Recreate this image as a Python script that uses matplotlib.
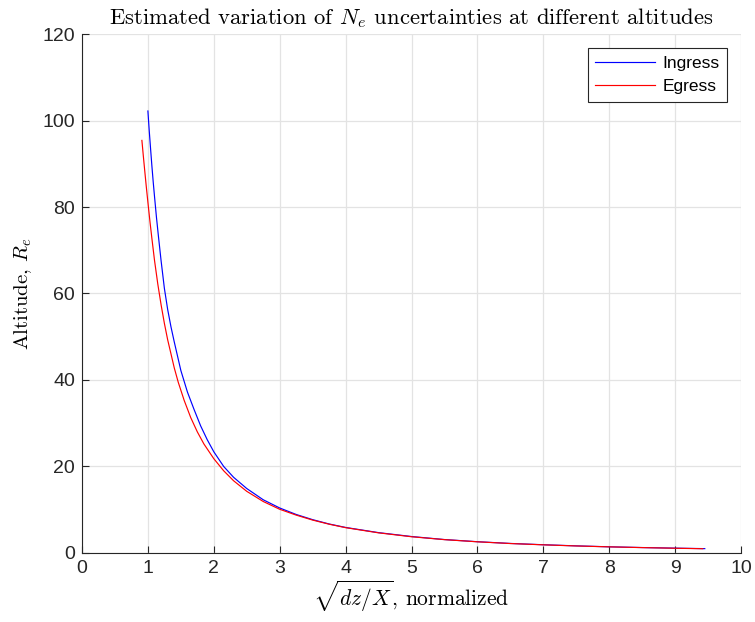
import matplotlib
matplotlib.use("Agg")
import matplotlib.pyplot as plt

# Ingress: normalized sqrt(dz/X) vs altitude (R_e)
ingress_x = [1.00, 1.02, 1.04, 1.06, 1.08, 1.10, 1.13, 1.16, 1.20, 1.25,
             1.30, 1.35, 1.40, 1.50, 1.60, 1.70, 1.80, 1.90, 2.00, 2.15,
             2.30, 2.50, 2.75, 3.00, 3.25, 3.50, 3.75, 4.00, 4.50, 5.00,
             5.50, 6.00, 6.50, 7.00, 7.50, 8.00, 8.50, 9.00, 9.45]
ingress_y = [102.2, 97.7, 93.6, 89.6, 85.9, 82.5, 77.6, 73.2, 67.6, 61.2,
             56.3, 52.3, 48.8, 42.2, 37.2, 33.2, 29.4, 26.2, 23.4, 20.0,
             17.5, 14.9, 12.3, 10.4, 8.9, 7.7, 6.7, 5.9, 4.7, 3.8,
             3.1, 2.6, 2.2, 1.9, 1.64, 1.42, 1.25, 1.11, 1.0]

# Egress
egress_x = [0.909, 0.93, 0.95, 0.975, 1.00, 1.03, 1.06, 1.10, 1.15, 1.20,
            1.25, 1.30, 1.40, 1.46, 1.55, 1.65, 1.75, 1.85, 2.00, 2.15,
            2.30, 2.50, 2.75, 3.00, 3.25, 3.50, 3.75, 4.00, 4.50, 5.00,
            5.50, 6.00, 6.50, 7.00, 7.50, 8.00, 8.50, 9.00, 9.42]
egress_y = [95.4, 91.9, 88.7, 84.8, 81.1, 76.8, 72.8, 67.7, 62.2, 57.4,
            53.1, 49.3, 42.8, 39.5, 35.3, 31.3, 28.0, 25.2, 21.8, 19.0,
            16.7, 14.25, 11.9, 10.1, 8.75, 7.6, 6.65, 5.85, 4.65, 3.75,
            3.08, 2.58, 2.18, 1.88, 1.62, 1.41, 1.24, 1.09, 0.98]

x_ticks = list(range(0, 11))
y_ticks = [0, 20, 40, 60, 80, 100, 120]

plt.rcParams["mathtext.fontset"] = "cm"
plt.rcParams["font.family"] = ["Liberation Sans", "DejaVu Sans"]

axis_color = "#262626"
fig = plt.figure(figsize=(7.55, 6.22), dpi=100)
ax = fig.add_axes([0.1086, 0.111, 0.8729, 0.8343])

ax.plot(ingress_x, ingress_y, color=(0, 0, 1), lw=0.85, label="Ingress")
ax.plot(egress_x, egress_y, color=(1, 0, 0), lw=0.85, label="Egress")

ax.set_xlim(0, 10)
ax.set_ylim(0, 120)
ax.set_xticks(x_ticks)
ax.set_yticks(y_ticks)
ax.grid(True, color="#e3e3e3", lw=0.9)
ax.set_axisbelow(True)

# Only the left and bottom axis lines are drawn; the outer grid lines close the box
for side in ("top", "right"):
    ax.spines[side].set_visible(False)
for side in ("left", "bottom"):
    ax.spines[side].set_color(axis_color)
    ax.spines[side].set_linewidth(0.8)
ax.tick_params(direction="in", length=5, width=0.8, colors=axis_color,
               labelsize=14, top=False, right=False, pad=5)

serif = "cmr10"
ax.set_title(r"Estimated variation of $N_e$ uncertainties at different altitudes",
             fontsize=16.3, family=serif, pad=7)
ax.set_xlabel(r"$\sqrt{dz/X}$, normalized", fontsize=15.5, family=serif, labelpad=1)
ax.set_ylabel(r"Altitude, $R_e$", fontsize=15, family=serif, labelpad=6)

leg = ax.legend(loc="upper right", prop={"size": 12.5}, handlelength=3.45,
                fancybox=False, framealpha=1, edgecolor=axis_color,
                borderaxespad=0.8, handletextpad=0.4, borderpad=0.45,
                labelspacing=0.45)
leg.get_frame().set_linewidth(0.8)

fig.savefig("out.png", dpi=100)
